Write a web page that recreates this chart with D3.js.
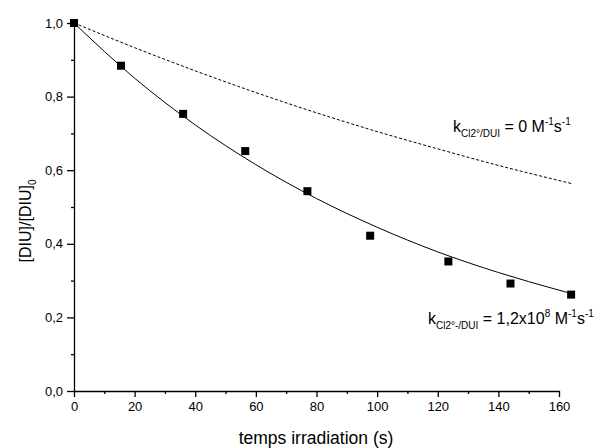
<!DOCTYPE html>
<html><head><meta charset="utf-8">
<script src="https://cdn.jsdelivr.net/npm/d3@7"></script>
<style>body{margin:0;background:#fff}svg{display:block}text{font-family:"Liberation Sans",Arial,sans-serif;fill:#000}</style>
</head><body><svg id="c" width="597" height="448"></svg>
<script>
// measured points
const pointTimes = [0, 15.5, 36, 56.5, 77, 97.7, 123.5, 144, 164];
const pointValues = [1.0, 0.884, 0.753, 0.652, 0.543, 0.422, 0.352, 0.292, 0.262];
// fitted curve (solid)
const fitTimes = [0, 20, 40, 60, 80, 100, 120, 140, 160, 164];
const fitValues = [1.0, 0.850, 0.723, 0.615, 0.523, 0.445, 0.378, 0.322, 0.274, 0.265];
// k = 0 curve (dashed)
const zeroTimes = [0, 20, 40, 60, 80, 100, 120, 140, 160, 164];
const zeroValues = [1.0, 0.933, 0.870, 0.811, 0.756, 0.705, 0.658, 0.613, 0.572, 0.564];
const xTicks = [0, 20, 40, 60, 80, 100, 120, 140, 160];
const yTicks = [0.0, 0.2, 0.4, 0.6, 0.8, 1.0];

const svg = d3.select("#c");
const x = d3.scaleLinear().domain([0, 160]).range([74, 559]);
const y = d3.scaleLinear().domain([0, 1]).range([391, 23]);
const fmt = d => d3.format(".1f")(d).replace(".", ",");

// minor ticks
const xMinor = d3.range(10, 160, 20);
const yMinor = d3.range(0.1, 1.0, 0.2);
svg.append("g").attr("transform", "translate(0,391)")
  .call(d3.axisBottom(x).tickValues(xMinor).tickSize(3).tickFormat(""))
  .call(g => g.select(".domain").remove());
svg.append("g").attr("transform", "translate(74,0)")
  .call(d3.axisLeft(y).tickValues(yMinor).tickSize(3).tickFormat(""))
  .call(g => g.select(".domain").remove());

const xa = svg.append("g").attr("transform", "translate(0,391)")
  .call(d3.axisBottom(x).tickValues(xTicks).tickSize(6).tickSizeOuter(0).tickPadding(5).tickFormat(d3.format("d")));
const ya = svg.append("g").attr("transform", "translate(74,0)")
  .call(d3.axisLeft(y).tickValues(yTicks).tickSize(7).tickSizeOuter(0).tickPadding(4).tickFormat(fmt));
svg.selectAll(".tick text").attr("font-size", 13).attr("font-family", "Liberation Sans, Arial, sans-serif").attr("fill", "#000");
svg.selectAll(".domain, .tick line").attr("stroke", "#000").attr("stroke-width", 1.3);

const line = d3.line().x(d => x(d[0])).y(d => y(d[1])).curve(d3.curveMonotoneX);
svg.append("path").datum(zeroTimes.map((t, i) => [t, zeroValues[i]]))
  .attr("d", line).attr("fill", "none").attr("stroke", "#000").attr("stroke-width", 1).attr("stroke-dasharray", "3,2");
svg.append("path").datum(fitTimes.map((t, i) => [t, fitValues[i]]))
  .attr("d", line).attr("fill", "none").attr("stroke", "#000").attr("stroke-width", 1);

svg.append("g").selectAll("rect").data(pointTimes.map((t, i) => [t, pointValues[i]])).join("rect")
  .attr("x", d => x(d[0]) - 4).attr("y", d => y(d[1]) - 4).attr("width", 8).attr("height", 8).attr("fill", "#000");

// axis titles
svg.append("text").attr("x", 316).attr("y", 444).attr("text-anchor", "middle").attr("font-size", 17.5).text("temps irradiation (s)");
const yt = svg.append("text").attr("transform", "translate(31,221) rotate(-90)").attr("text-anchor", "middle").attr("font-size", 16);
yt.append("tspan").text("[DIU]/[DIU]");
yt.append("tspan").attr("font-size", 10).attr("dy", 5).text("0");

function annot(xp, yp, sub, parts) {
  const t = svg.append("text").attr("x", xp).attr("y", yp).attr("font-size", 16);
  t.append("tspan").text("k");
  t.append("tspan").attr("font-size", 10).attr("dy", 5).text(sub);
  t.append("tspan").attr("dy", -5).text(" = " + parts[0]);
  if (parts[1]) t.append("tspan").attr("font-size", 10).attr("dy", -7).text(parts[1]);
  t.append("tspan").attr("dy", parts[1] ? 7 : 0).text(" M");
  t.append("tspan").attr("font-size", 10).attr("dy", -7).text("-1");
  t.append("tspan").attr("dy", 7).text("s");
  t.append("tspan").attr("font-size", 10).attr("dy", -7).text("-1");
}
annot(453, 132, "Cl2°/DUI", ["0", ""]);
annot(428, 324, "Cl2°-/DUI", ["1,2x10", "8"]);
</script></body></html>
